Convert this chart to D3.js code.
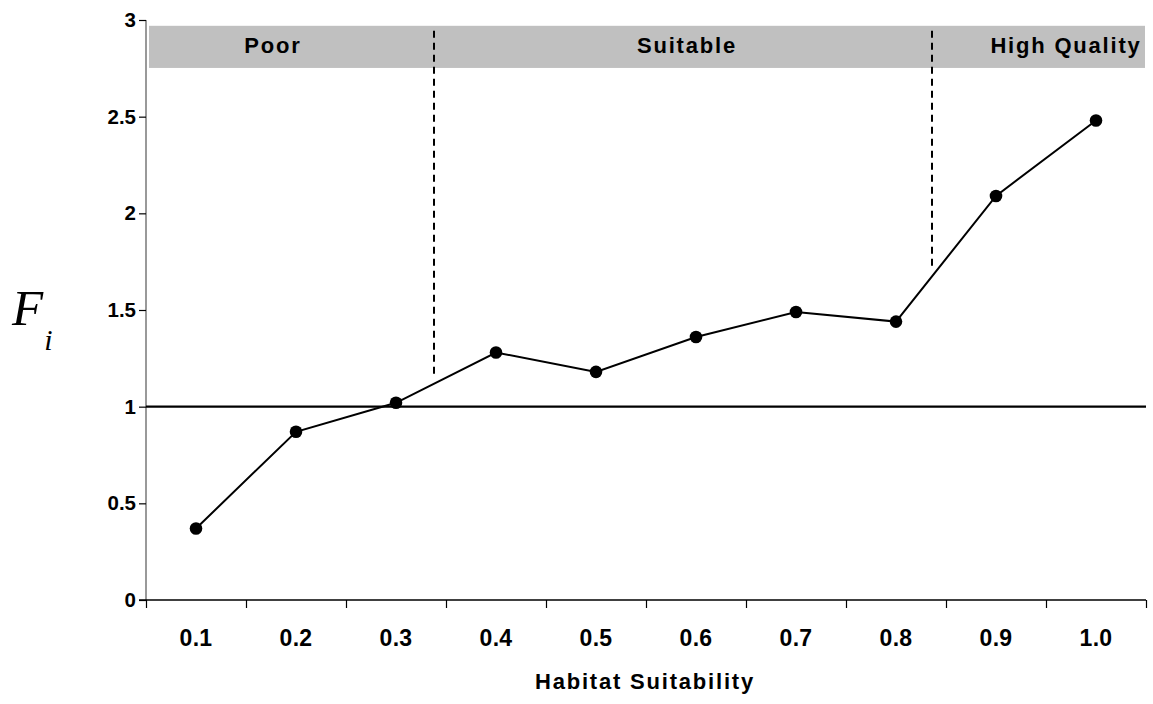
<!DOCTYPE html>
<html><head><meta charset="utf-8">
<script src="https://cdn.jsdelivr.net/npm/d3@7"></script>
<style>
html,body{margin:0;padding:0;background:#fff;}
svg text{font-family:"Liberation Sans",Arial,sans-serif;}
</style></head>
<body><svg id="chart" width="1153" height="704"></svg>
<script>
const categories = ["0.1","0.2","0.3","0.4","0.5","0.6","0.7","0.8","0.9","1.0"];
const suitability = [0.1,0.2,0.3,0.4,0.5,0.6,0.7,0.8,0.9,1.0];
const fiValues = [0.37,0.87,1.02,1.28,1.18,1.36,1.49,1.44,2.09,2.48];
const yTicks = [0,0.5,1,1.5,2,2.5,3];
const zoneNames = ["Poor","Suitable","High Quality"];
const zoneLabelX = [0.177,0.591,0.97];
const thresholds = [0.338,0.836];
const thresholdEnds = [1.17,1.71];
const bandTop = 2.97, bandBottom = 2.752;
const reference = 1;

(function(){
const svg = d3.select("#chart");
const mLeft = 146, mRight = 1146, mTop = 20, mBottom = 600;
const xBand = d3.scaleBand().domain(categories).range([mLeft,mRight]);
const x = d3.scaleLinear().domain([0.05,1.05]).range([mLeft,mRight]);
const y = d3.scaleLinear().domain([0,3]).range([mBottom,mTop]);

// shaded band
svg.append("rect").attr("x",x(0.053)).attr("y",y(bandTop))
  .attr("width",x(1.049)-x(0.053)).attr("height",y(bandBottom)-y(bandTop))
  .attr("fill","#c0c0c0");
svg.selectAll(".zl").data(zoneNames).join("text")
  .attr("x",(d,i)=>x(zoneLabelX[i])).attr("y",y(2.828))
  .attr("text-anchor","middle").attr("font-weight","bold")
  .attr("font-size",22).attr("letter-spacing",1.8).attr("fill","#000")
  .text(d=>d);

// dashed thresholds
svg.selectAll(".th").data(thresholds).join("line")
  .attr("x1",d=>x(d)).attr("x2",d=>x(d))
  .attr("y1",y(2.945)).attr("y2",(d,i)=>y(thresholdEnds[i]))
  .attr("stroke","#000").attr("stroke-width",2).attr("stroke-dasharray","7,5");

// y axis
const ya = svg.append("g").attr("transform",`translate(${mLeft},0)`)
  .call(d3.axisLeft(y).tickValues(yTicks).tickSize(7).tickPadding(3).tickFormat(d=>String(d)));
ya.select(".domain").attr("stroke","#777").attr("stroke-width",1.5).attr("d",`M0,${mTop}V${mBottom}`);
ya.selectAll(".tick line").attr("stroke","#000").attr("stroke-width",1.2);
ya.selectAll("text").attr("font-size",20.5).attr("font-weight","bold").attr("fill","#000")
  .attr("font-family","Liberation Sans, Arial, sans-serif");

// x axis ticks (band boundaries)
const boundaries = d3.range(0, categories.length+1).map(i=>0.05+i*0.1);
const xt = svg.append("g").attr("transform",`translate(0,${mBottom})`)
  .call(d3.axisBottom(x).tickValues(boundaries).tickSize(8).tickFormat(""));
xt.select(".domain").attr("stroke","#000").attr("stroke-width",1.5).attr("d",`M${mLeft-7},0H${mRight}`);
xt.selectAll(".tick line").attr("stroke","#000").attr("stroke-width",1.2);
const xl = svg.append("g").attr("transform",`translate(0,${mBottom})`)
  .call(d3.axisBottom(xBand).tickSize(0).tickPadding(30));
xl.select(".domain").remove();
xl.selectAll("text").attr("font-size",23).attr("font-weight","bold").attr("fill","#000")
  .attr("letter-spacing",0.3).attr("font-family","Liberation Sans, Arial, sans-serif");

// reference line at 1
svg.append("line").attr("x1",mLeft).attr("x2",mRight).attr("y1",y(reference)).attr("y2",y(reference))
  .attr("stroke","#000").attr("stroke-width",2.2);

// series
const line = d3.line().x((d,i)=>x(suitability[i])).y(d=>y(d));
svg.append("path").datum(fiValues).attr("d",line).attr("fill","none")
  .attr("stroke","#000").attr("stroke-width",2);
svg.selectAll(".pt").data(fiValues).join("circle")
  .attr("cx",(d,i)=>x(suitability[i])).attr("cy",d=>y(d)).attr("r",6.3).attr("fill","#000");

// axis titles
svg.append("text").attr("x",645).attr("y",689).attr("text-anchor","middle")
  .attr("font-weight","bold").attr("font-size",22).attr("letter-spacing",1.8).text("Habitat Suitability");
const ft = svg.append("text").attr("x",12).attr("y",325)
  .style("font-family","'Liberation Serif','Times New Roman',serif").attr("font-style","italic");
ft.append("tspan").attr("font-size",51).text("F");
ft.append("tspan").attr("font-size",30).attr("dy",25).attr("dx",1).text("i");
})();
</script></body></html>
